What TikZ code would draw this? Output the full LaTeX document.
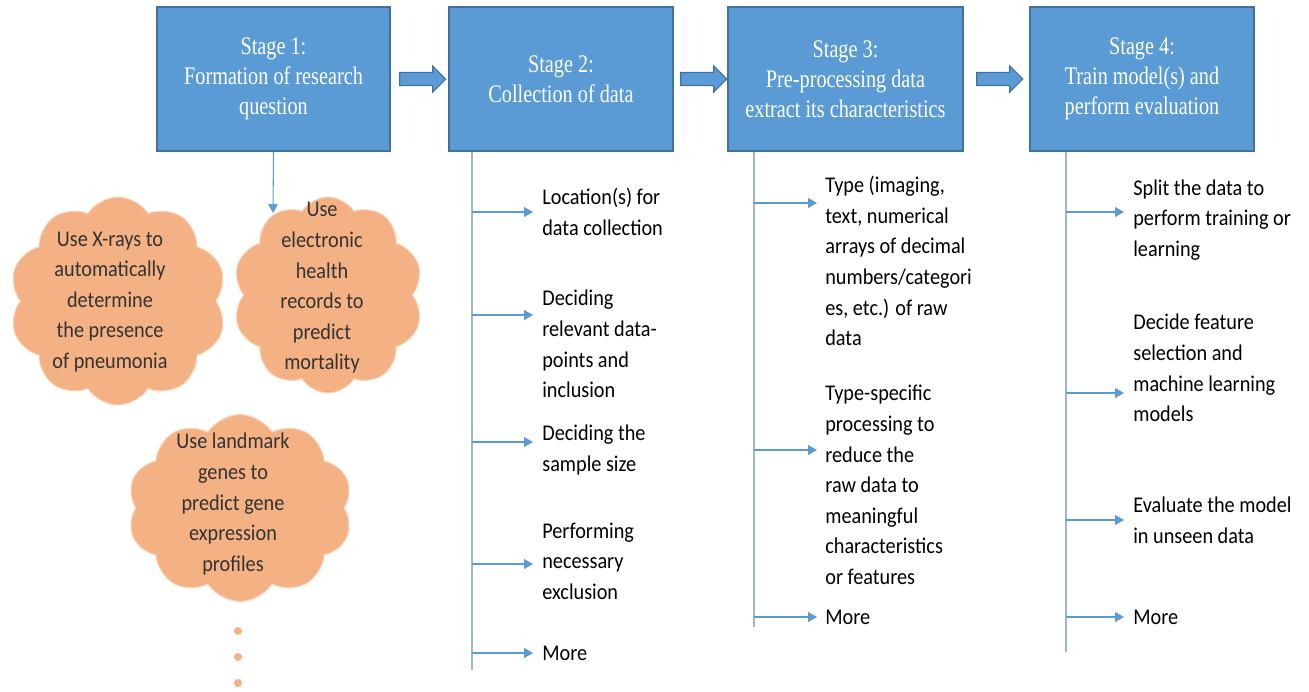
\documentclass[tikz,border=0pt]{standalone}
\usepackage{fontspec}
\setmainfont{Carlito}
\newfontfamily\titlefont[FakeStretch=0.8]{Liberation Serif}
\newfontfamily\bodyfont[FakeStretch=0.9]{Carlito}
\usetikzlibrary{arrows.meta, shapes.symbols, shapes.arrows, calc}
\definecolor{stageblue}{HTML}{5B9BD5}
\definecolor{stageedge}{HTML}{41719C}
\definecolor{spinegray}{HTML}{9BB5D3}
\definecolor{puffcol}{HTML}{F4B183}
\definecolor{inkgray}{HTML}{333333}
\tikzset{
	stage/.style={
		rectangle, draw=stageedge, line width=0.8pt, fill=stageblue,
		text=white, align=center, minimum height=2.88cm, inner sep=0pt,
		font=\titlefont\fontsize{14.4}{17}\selectfont
	},
	blockarrow/.style={
		single arrow, draw=stageedge, fill=stageblue, line width=0.6pt,
		minimum height=0.92cm, inner xsep=0pt, inner ysep=0.12cm,
		single arrow head extend=0.13cm
	},
	spine/.style={draw=spinegray, line width=0.6pt},
	branch/.style={draw=stageblue, line width=0.6pt, -{Triangle[length=5pt,width=5.5pt]}},
	item/.style={
		anchor=west, align=left, inner sep=0pt, text=black,
		font=\bodyfont\fontsize{12.8}{17.4}\selectfont
	},
	puff/.style={
		cloud, cloud puffs=10, cloud puff arc=115, aspect=1,
		fill=puffcol, draw=puffcol!55!white, line width=0.6pt, inner sep=0pt
	},
	pufftext/.style={
		align=center, inner sep=0pt, text=inkgray,
		font=\bodyfont\fontsize{12.8}{17.4}\selectfont
	},
	moredot/.style={circle, fill=puffcol, inner sep=0pt, minimum size=0.16cm}
}
\begin{document}
\begin{tikzpicture}[x=0.02cm, y=-0.02cm]
		\useasboundingbox (0,0) rectangle (1309,691);

		% the stages
		\node[stage, minimum width=4.66cm] (s1) at (273.5,79) {Stage 1:\\Formation of research\\question};
		\node[stage, minimum width=4.48cm] (s2) at (561,79) {Stage 2:\\Collection of data};
		\node[stage, minimum width=4.70cm] (s3) at (845.5,79) {Stage 3:\\Pre-processing data\\extract its characteristics};
		\node[stage, minimum width=4.48cm] (s4) at (1142,79) {Stage 4:\\Train model(s) and\\perform evaluation};

		% the block arrows
		\node[blockarrow] (a12) at ($(s1.east)!0.5!(s2.west)$) {};
		\node[blockarrow] (a23) at ($(s2.east)!0.5!(s3.west)$) {};
		\node[blockarrow] (a34) at ($(s3.east)!0.5!(s4.west)$) {};

		% stage 1: example questions
		\node[puff, minimum width=4.34cm, minimum height=4.16cm] (c1) at (118,301) {};
		\node[pufftext] (c1t) at (110,302) {Use X-rays to\\automatically\\determine\\the presence\\of pneumonia};
		\node[puff, minimum width=3.80cm, minimum height=3.92cm] (c2) at (328,295) {};
		\node[pufftext] (c2t) at (322,288) {Use\\electronic\\health\\records to\\predict\\mortality};
		\node[puff, minimum width=4.50cm, minimum height=3.74cm] (c3) at (240,508) {};
		\node[pufftext] (c3t) at (233,504) {Use landmark\\genes to\\predict gene\\expression\\profiles};
		\node[moredot] (d1) at (238,631) {};
		\node[moredot] (d2) at (238,657) {};
		\node[moredot] (d3) at (238,683) {};
		\coordinate (q1) at (273,213);
		\draw[branch] (s1.south) -- (q1);

		% stage 2 items
		\node[item] (t21) at (542,212) {Location(s) for\\data collection};
		\node[item] (t22) at (542,344) {Deciding\\relevant data-\\points and\\inclusion};
		\node[item] (t23) at (542,450) {Deciding the\\sample size};
		\node[item] (t24) at (542,561) {Performing\\necessary\\exclusion};
		\node[item] (t25) at (542,653) {More};

		% stage 3 items
		\node[item] (t31) at (825,261) {Type (imaging,\\text, numerical\\arrays of decimal\\numbers/categori\\es, etc.) of raw\\data};
		\node[item] (t32) at (825,485) {Type-specific\\processing to\\reduce the\\raw data to\\meaningful\\characteristics\\or features};
		\node[item] (t33) at (825,617) {More};

		% stage 4 items
		\node[item] (t41) at (1133,220) {Split the data to\\perform training or\\learning};
		\node[item] (t42) at (1133,368) {Decide feature\\selection and\\machine learning\\models};
		\node[item] (t43) at (1133,520) {Evaluate the model\\in unseen data};
		\node[item] (t44) at (1133,617) {More};

		% the spines
		\coordinate (sp2) at (472,670);
		\coordinate (sp3) at (754,627);
		\coordinate (sp4) at (1066,652);
		\draw[spine] (s2.south -| sp2) -- (sp2);
		\draw[spine] (s3.south -| sp3) -- (sp3);
		\draw[spine] (s4.south -| sp4) -- (sp4);

		% the branch arrows
		\coordinate (b21) at ([xshift=-0.18cm]t21.west);
		\coordinate (b22) at ([xshift=-0.18cm,yshift=0.58cm]t22.west);
		\coordinate (b23) at ([xshift=-0.18cm,yshift=0.16cm]t23.west);
		\coordinate (b24) at ([xshift=-0.18cm,yshift=-0.06cm]t24.west);
		\coordinate (b25) at ([xshift=-0.18cm]t25.west);
		\coordinate (b31) at ([xshift=-0.16cm,yshift=1.16cm]t31.west);
		\coordinate (b32) at ([xshift=-0.16cm,yshift=0.70cm]t32.west);
		\coordinate (b33) at ([xshift=-0.16cm]t33.west);
		\coordinate (b41) at ([xshift=-0.18cm,yshift=0.16cm]t41.west);
		\coordinate (b42) at ([xshift=-0.18cm,yshift=-0.50cm]t42.west);
		\coordinate (b43) at ([xshift=-0.18cm]t43.west);
		\coordinate (b44) at ([xshift=-0.18cm]t44.west);
		\draw[branch] (b21 -| sp2) -- (b21);
		\draw[branch] (b22 -| sp2) -- (b22);
		\draw[branch] (b23 -| sp2) -- (b23);
		\draw[branch] (b24 -| sp2) -- (b24);
		\draw[branch] (b25 -| sp2) -- (b25);
		\draw[branch] (b31 -| sp3) -- (b31);
		\draw[branch] (b32 -| sp3) -- (b32);
		\draw[branch] (b33 -| sp3) -- (b33);
		\draw[branch] (b41 -| sp4) -- (b41);
		\draw[branch] (b42 -| sp4) -- (b42);
		\draw[branch] (b43 -| sp4) -- (b43);
		\draw[branch] (b44 -| sp4) -- (b44);
	\end{tikzpicture}
\end{document}
